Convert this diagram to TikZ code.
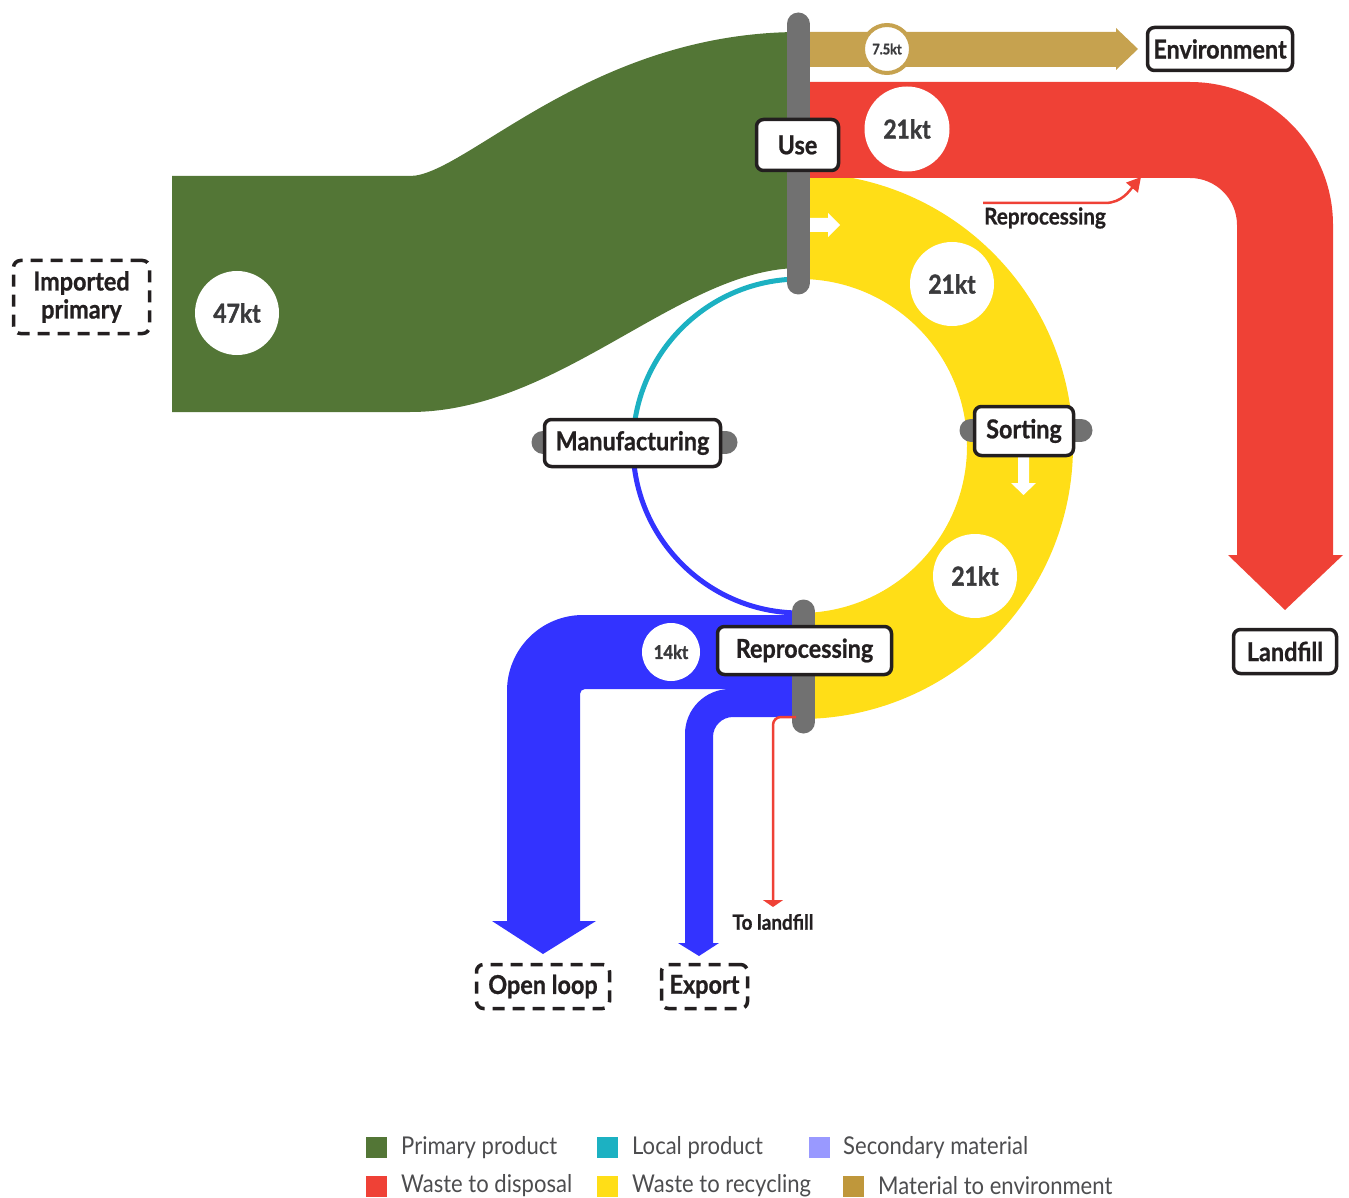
\documentclass[tikz,border=0pt]{standalone}
\usepackage{fontspec}
\setmainfont{Lato}
\newfontfamily\labfont[FakeStretch=0.9, FakeBold=0.8]{Lato}
\newfontfamily\numfont[FakeStretch=0.88, FakeBold=1.5]{Lato}
\newfontfamily\legfont[FakeStretch=0.9]{Lato}
\usetikzlibrary{arrows.meta}
\definecolor{cgreen}{HTML}{537636}
\definecolor{cyellow}{HTML}{FFDE17}
\definecolor{cred}{HTML}{EF4136}
\definecolor{cblue}{HTML}{3333FF}
\definecolor{ccyan}{HTML}{1CB1C2}
\definecolor{cgold}{HTML}{C6A24F}
\definecolor{lgold}{HTML}{BF973B}
\definecolor{cpurple}{HTML}{9999FF}
\definecolor{cgray}{HTML}{717171}
\definecolor{ink}{HTML}{231F20}
\definecolor{numgray}{HTML}{3A3A3C}
\definecolor{leggray}{HTML}{4D4D4F}
\begin{document}
\begin{tikzpicture}[x=1pt,y=-1pt,
  box/.style={draw=ink, line width=3.5pt, rounded corners=7pt, fill=white, inner sep=0pt, text=ink,
    font=\labfont\bfseries\fontsize{26}{29}\selectfont, align=center},
  dbox/.style={box, dash pattern=on 12pt off 8pt},
  num/.style={circle, fill=white, inner sep=0pt, text=numgray, font=\numfont\bfseries\fontsize{26}{29}\selectfont},
  bar/.style={draw=cgray, line width=23pt, line cap=round},
  thinred/.style={draw=cred, line width=2.5pt},
  legsq/.style={rectangle, minimum size=21pt, inner sep=0pt},
  legtxt/.style={anchor=west, inner sep=0pt, text=leggray, font=\legfont\fontsize{24.5}{28}\selectfont},
  note/.style={inner sep=0pt, text=ink, font=\labfont\bfseries\fontsize{23}{26}\selectfont}
]
\useasboundingbox (0,0) rectangle (1349,1198);

% yellow recycling ring
\fill[cyellow] (800,173) arc[start angle=-90,end angle=90,radius=273] -- (800,613)
  arc[start angle=90,end angle=-90,radius=167] -- cycle;

% green primary product
\fill[cgreen] (172,176) -- (410,176) .. controls (465,176) and (590,32) .. (800,32)
  -- (800,268) .. controls (680,268) and (560,412) .. (410,412) -- (172,412) -- cycle;

% red waste to disposal
\fill[cred] (810,82) -- (1190,82) arc[start angle=-90,end angle=0,radius=143]
  -- (1333,555) -- (1343,555) -- (1285,610) -- (1228,555) -- (1237,555) -- (1237,225)
  arc[start angle=0,end angle=-90,radius=47] -- (810,178) -- cycle;

% gold material to environment
\fill[cgold] (810,32) -- (1116,32) -- (1116,28) -- (1138,49) -- (1116,70) -- (1116,67) -- (810,67) -- cycle;

% blue open loop
\fill[cblue] (800,615) -- (583,615) arc[start angle=-90,end angle=-180,radius=76]
  -- (507,921) -- (492,921) -- (543,954) -- (596,921) -- (580,921) -- (580,694)
  arc[start angle=180,end angle=270,radius=5] -- (800,689) -- cycle;
% blue export
\fill[cblue] (800,689) -- (730,689) arc[start angle=-90,end angle=-180,radius=45]
  -- (685,943) -- (678,943) -- (699,956) -- (719,943) -- (713,943) -- (713,737)
  arc[start angle=180,end angle=270,radius=20] -- (800,717) -- cycle;

% thin inner ring
\draw[ccyan, line width=5pt] (800,279) arc[start angle=-90,end angle=-180,radius=167];
\draw[cblue, line width=5pt] (633,446) arc[start angle=180,end angle=90,radius=167];

% white direction arrows
\fill[white] (810,218) -- (828,218) -- (828,213) -- (840,225) -- (828,237) -- (828,232) -- (810,232) -- cycle;
\fill[white] (1018,457) -- (1029,457) -- (1029,483) -- (1036,483) -- (1023.5,495) -- (1011,483) -- (1018,483) -- cycle;

% gray process bars
\draw[bar] (798,24) -- (798,283);
\draw[bar] (803.5,611) -- (803.5,722);
\draw[bar] (543,442) -- (726,442);
\draw[bar] (971,430) -- (1081,430);

% process boxes
\node[box, minimum width=82pt, minimum height=51pt] (use) at (797.5,145) {Use};
\node[box, minimum width=99pt, minimum height=49pt] (sorting) at (1024,431) {Sorting};
\node[box, minimum width=176pt, minimum height=47pt] (manuf) at (632.5,443) {Manufacturing};
\node[box, minimum width=174pt, minimum height=48pt] (reproc) at (804.5,650.5) {Reprocessing};
\node[box, minimum width=145pt, minimum height=43pt] (env) at (1220,49) {Environment};
\node[box, minimum width=103pt, minimum height=44pt] (landfill) at (1285,651.5) {Landfill};
\node[dbox, minimum width=133pt, minimum height=44pt] (openloop) at (543,986.5) {Open loop};
\node[dbox, minimum width=86pt, minimum height=44pt] (export) at (704.5,986.5) {Export};
\node[dbox, minimum width=136pt, minimum height=73pt, font=\labfont\bfseries\fontsize{26}{28}\selectfont] (imported) at (81.5,297) {Imported\\primary};

% quantity circles
\node[num, minimum size=84pt] (q47) at (237,313) {47kt};
\node[num, minimum size=85pt] (q21a) at (907,129) {21kt};
\node[num, minimum size=84pt] (q21b) at (952,284) {21kt};
\node[num, minimum size=84pt] (q21c) at (975,576) {21kt};
\node[num, minimum size=58pt, font=\numfont\bfseries\fontsize{19}{22}\selectfont] (q14) at (671,652) {14kt};
\node[num, draw=cgold, line width=4pt, minimum size=48pt, font=\numfont\bfseries\fontsize{14.5}{16}\selectfont] (q75) at (887,49) {7.5kt};

% thin red connectors
\coordinate (rpstart) at (983,203);
\coordinate (rpend) at (1141,177);
\draw[thinred, -{Triangle[width=15pt,length=14pt]}] (rpstart) -- (1105,203) .. controls (1122,203) and (1130,190) .. (rpend);
\node[note] (rplabel) at (1045,218) {Reprocessing};

\coordinate (tlstart) at (796,717);
\coordinate (tlend) at (773,907);
\draw[thinred, rounded corners=8pt, -{Triangle[width=20pt,length=7pt]}] (tlstart) -- (773,717) -- (tlend);
\node[note, font=\labfont\bfseries\fontsize{21}{24}\selectfont] (tllabel) at (773,922) {To landfill};

% legend
\node[legsq, fill=cgreen] (l1) at (376,1147.5) {};
\node[legtxt] at (401,1147.5) {Primary product};
\node[legsq, fill=ccyan] (l2) at (607.5,1147.5) {};
\node[legtxt] at (632,1147.5) {Local product};
\node[legsq, fill=cpurple] (l3) at (819.5,1147.5) {};
\node[legtxt] at (843,1147.5) {Secondary material};
\node[legsq, fill=cred] (l4) at (376,1186) {};
\node[legtxt] at (401,1186) {Waste to disposal};
\node[legsq, fill=cyellow] (l5) at (607.5,1186) {};
\node[legtxt] at (632,1186) {Waste to recycling};
\node[legsq, fill=lgold] (l6) at (853.5,1186) {};
\node[legtxt] at (878,1186) {Material to environment};
\end{tikzpicture}
\end{document}
